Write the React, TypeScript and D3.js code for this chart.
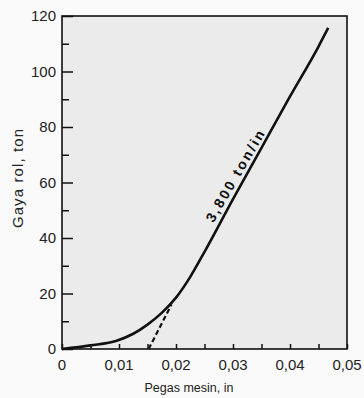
import * as d3 from "d3";
import { useEffect, useRef } from "react";

// curve: machine spring (in) vs roll force (ton)
const springIn = [0, 0.005, 0.0096, 0.0125, 0.015, 0.0175, 0.02, 0.0225, 0.025, 0.03, 0.035, 0.04, 0.045, 0.0467];
const rollForce = [0, 1.3, 3.0, 5.5, 8.8, 13, 18.5, 26, 35, 54, 72.5, 91, 109, 115.7];

// dashed extrapolation of the linear part down to the axis
const dashX = [0.0152, 0.0192];
const dashY = [0, 16];

const xTicks = [0, 0.01, 0.02, 0.03, 0.04, 0.05];
const xTickLabels = ["0", "0,01", "0,02", "0,03", "0,04", "0,05"];
const yTicks = [0, 20, 40, 60, 80, 100, 120];

const W = 364, H = 398;
const margin = { top: 16, right: 17, bottom: 49, left: 62 };
const FONT = "'Liberation Sans', Arial, sans-serif";

const App = () => {
    const ref = useRef<SVGSVGElement>(null);

    useEffect(() => {
        const svg = d3.select(ref.current);
        svg.selectAll("*").remove();

        const w = W - margin.left - margin.right;
        const h = H - margin.top - margin.bottom;

        const x = d3.scaleLinear().domain([0, 0.05]).range([0, w]);
        const y = d3.scaleLinear().domain([0, 120]).range([h, 0]);

        const g = svg.append("g")
            .attr("transform", "translate(" + margin.left + "," + margin.top + ")");

        // scanned paper look inside the frame
        g.append("rect")
            .attr("width", w).attr("height", h)
            .attr("fill", "#ebebeb");

        // inward ticks
        const yAxis = g.append("g")
            .call(d3.axisRight(y).tickValues(d3.range(0, 121, 10)).tickSize(0).tickFormat(() => ""));
        yAxis.select(".domain").remove();
        yAxis.selectAll(".tick line")
            .attr("x2", (d: any) => (d % 20 === 0 ? 11 : 7))
            .attr("stroke", "#111").attr("stroke-width", 1.5);

        const xAxis = g.append("g")
            .attr("transform", "translate(0," + h + ")")
            .call(d3.axisTop(x).tickValues(d3.range(0, 0.0501, 0.005)).tickSize(5).tickFormat(() => ""));
        xAxis.select(".domain").remove();
        xAxis.selectAll(".tick line").attr("stroke", "#111").attr("stroke-width", 1.5);

        // frame
        g.append("rect")
            .attr("width", w).attr("height", h)
            .attr("fill", "none")
            .attr("stroke", "#111")
            .attr("stroke-width", 1.6);

        // tick labels
        g.selectAll(".ylab")
            .data(yTicks)
            .enter().append("text")
            .attr("x", -6)
            .attr("y", d => y(d))
            .attr("dy", "0.36em")
            .attr("text-anchor", "end")
            .attr("font-family", FONT)
            .attr("font-size", 15)
            .attr("fill", "#222")
            .text(d => d);

        g.selectAll(".xlab")
            .data(xTicks)
            .enter().append("text")
            .attr("x", d => x(d))
            .attr("y", h + 21)
            .attr("text-anchor", "middle")
            .attr("font-family", FONT)
            .attr("font-size", 15)
            .attr("fill", "#222")
            .text((d, i) => xTickLabels[i]);

        // axis titles
        svg.append("text")
            .attr("x", 189).attr("y", 392)
            .attr("text-anchor", "middle")
            .attr("font-family", FONT)
            .attr("font-size", 12.5)
            .attr("fill", "#222")
            .text("Pegas mesin, in");

        svg.append("text")
            .attr("transform", "translate(23,178) rotate(-90)")
            .attr("text-anchor", "middle")
            .attr("font-family", FONT)
            .attr("font-size", 15)
            .attr("letter-spacing", 1.1)
            .attr("fill", "#222")
            .text("Gaya rol, ton");

        // curve
        const pts = springIn.map((v, i) => [v, rollForce[i]] as [number, number]);
        const line = d3.line<[number, number]>()
            .x(d => x(d[0]))
            .y(d => y(d[1]))
            .curve(d3.curveMonotoneX);

        g.append("path")
            .datum(pts)
            .attr("d", line)
            .attr("fill", "none")
            .attr("stroke", "#111")
            .attr("stroke-width", 2.6);

        const dashPts = dashX.map((v, i) => [v, dashY[i]] as [number, number]);
        g.append("path")
            .datum(dashPts)
            .attr("d", d3.line<[number, number]>().x(d => x(d[0])).y(d => y(d[1])))
            .attr("fill", "none")
            .attr("stroke", "#111")
            .attr("stroke-width", 2.2)
            .attr("stroke-dasharray", "5,3");

        // slope label sitting on the line
        g.append("text")
            .attr("transform", "translate(" + x(0.0312) + "," + y(61.8) + ") rotate(-60)")
            .attr("text-anchor", "middle")
            .attr("font-family", FONT)
            .attr("font-size", 14)
            .attr("font-weight", "bold")
            .attr("letter-spacing", 2.4)
            .attr("fill", "#111")
            .text("3,800 ton/in");
    });

    return (
        <svg ref={ref} width={W} height={H}
            style={{ position: "absolute", left: 0, top: 0, background: "#fafafa" }} />
    );
};

export default App;
